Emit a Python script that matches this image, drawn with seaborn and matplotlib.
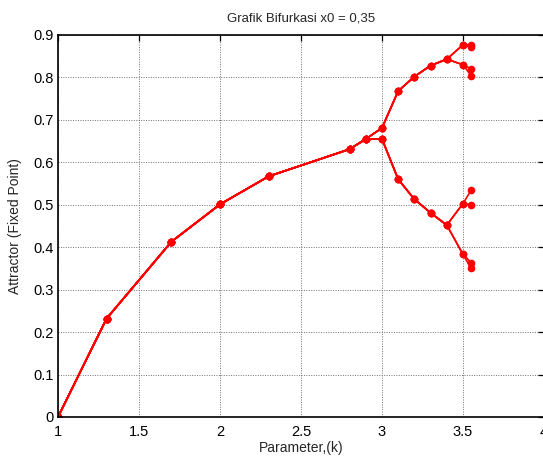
import numpy as np
import pandas as pd
import matplotlib
matplotlib.use("Agg")
import matplotlib.pyplot as plt
import seaborn as sns

# parameter k and attractor values
k_stem = [1.0, 1.3, 1.7, 2.0, 2.3, 2.8, 2.9]
x_stem = [0.0, 0.232, 0.413, 0.501, 0.567, 0.631, 0.655]

k_p2 = [3.0, 3.1, 3.2, 3.3, 3.4]
x_p2_upper = [0.681, 0.768, 0.802, 0.828, 0.843]
x_p2_lower = [0.655, 0.560, 0.513, 0.481, 0.452]

k_p4 = 3.5
x_p4 = [0.877, 0.830, 0.503, 0.383]   # upper-hi, upper-lo, lower-hi, lower-lo

k_p8 = 3.55
x_p8 = [0.877, 0.872, 0.820, 0.804, 0.534, 0.500, 0.364, 0.350]

# build one series per final attractor value (8 branches)
rows = []
for i, x8 in enumerate(x_p8):
    p4 = i // 2
    p2 = x_p2_upper if p4 < 2 else x_p2_lower
    ks = k_stem + k_p2 + [k_p4, k_p8]
    xs = x_stem + p2 + [x_p4[p4], x8]
    for kk, xx in zip(ks, xs):
        rows.append({"k": kk, "x": xx, "branch": i})
df = pd.DataFrame(rows)

sns.set_theme(style="white")
plt.rcParams["font.family"] = ["Liberation Sans", "DejaVu Sans"]

fig = plt.figure(figsize=(5.43, 4.58), dpi=100)
ax = fig.add_axes([58 / 543, 41 / 458, 486 / 543, 382 / 458])

sns.lineplot(data=df, x="k", y="x", units="branch", estimator=None,
             color="red", marker="o", markersize=5.5, markeredgewidth=0,
             linewidth=1.2, sort=False, ax=ax, legend=False)

ax.set_xlim(1, 4)
ax.set_ylim(0, 0.9)
ax.set_xticks([1, 1.5, 2, 2.5, 3, 3.5, 4])
ax.set_xticklabels(["1", "1.5", "2", "2.5", "3", "3.5", "4"])
ax.set_yticks(np.arange(0, 0.91, 0.1))
ax.set_yticklabels(["0", "0.1", "0.2", "0.3", "0.4", "0.5", "0.6", "0.7", "0.8", "0.9"])
ax.grid(True, linestyle=(0, (1, 1.5)), color="#707070", linewidth=0.7)
ax.tick_params(direction="in", length=4, width=0.9, top=True, right=True,
               colors="black")
ax.tick_params(axis="x", labelsize=10.5, pad=6)
ax.tick_params(axis="y", labelsize=10.5, pad=3)
for s in ax.spines.values():
    s.set_color("black")
    s.set_linewidth(1.2)

ax.set_title("Grafik Bifurkasi x0 = 0,35", fontsize=9.5, pad=10)
ax.set_xlabel("Parameter,(k)", fontsize=10, labelpad=1)
ax.set_ylabel("Attractor (Fixed Point)", fontsize=10, labelpad=8)

fig.savefig("out.png", dpi=100)
